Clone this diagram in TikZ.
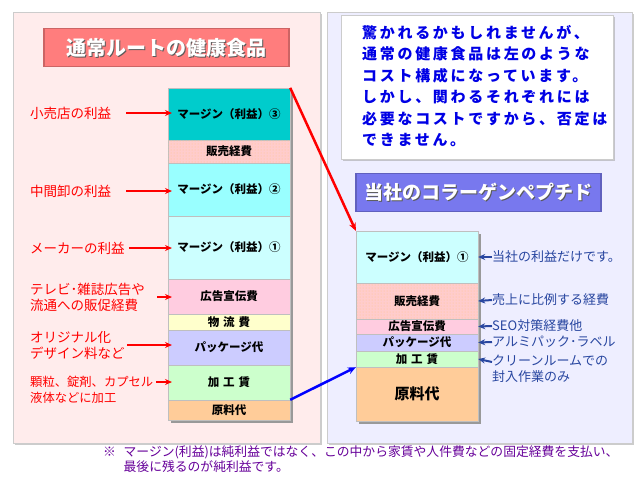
\documentclass[tikz,border=0pt]{standalone}
\usepackage{fontspec}
\newfontfamily\jp{Noto Sans CJK JP}
\newfontfamily\jpwide[LetterSpace=18]{Noto Sans CJK JP}
\usetikzlibrary{arrows.meta,patterns,shadows}
\definecolor{panelpink}{RGB}{255,236,236}
\definecolor{panelblue}{RGB}{238,238,255}
\definecolor{titlered}{RGB}{255,125,125}
\definecolor{titleblue}{RGB}{120,120,238}
\definecolor{cyanA}{RGB}{0,204,204}
\definecolor{cyanB}{RGB}{153,255,255}
\definecolor{cyanC}{RGB}{204,255,255}
\definecolor{salespink}{RGB}{255,204,204}
\definecolor{adpink}{RGB}{255,204,224}
\definecolor{logyellow}{RGB}{255,255,204}
\definecolor{packblue}{RGB}{204,204,255}
\definecolor{workgreen}{RGB}{204,255,204}
\definecolor{rawbrown}{RGB}{255,204,153}
\definecolor{notenavy}{RGB}{40,70,160}
\definecolor{notepurple}{RGB}{102,0,153}
\begin{document}
\begin{tikzpicture}[x=1pt,y=-1pt,
  panel/.style={draw=gray!40,inner sep=0pt,anchor=north west,drop shadow={shadow xshift=2pt,shadow yshift=-2pt,fill=gray!80}},
  title/.style={draw=#1!80!black,line width=1.2pt,fill=#1,inner sep=0pt,minimum width=245pt,minimum height=38pt},
  row/.style={draw=gray!50,fill=#1,minimum width=122pt,inner sep=0pt,font=\jp\bfseries\fontsize{11.5}{12}\selectfont},
  redlbl/.style={text=red,font=\jp\fontsize{13.5}{16}\selectfont,align=left,inner sep=0pt},
  bluelbl/.style={text=notenavy,font=\jp\fontsize{13}{16}\selectfont,align=left,inner sep=0pt,anchor=west},
  redarr/.style={red,line width=2pt,-{Stealth[length=7pt,width=6pt]}},
  bluearr/.style={notenavy,line width=2pt,-{Stealth[length=7pt,width=6pt]}}]
  \useasboundingbox (0,0) rectangle (640,480);
  % background panels
  \node[panel,fill=panelpink,minimum width=307pt,minimum height=431pt] (lpanel) at (13,12) {};
  \node[panel,fill=panelblue,minimum width=305pt,minimum height=431pt] (rpanel) at (327,12) {};
  % titles
  \node[title=titlered] (ltitle) at (166.5,47.5) {};
  \node[text=gray!70!black,font=\jp\bfseries\fontsize{20}{22}\selectfont] at (167.5,48.5) {通常ルートの健康食品};
  \node[text=white,font=\jp\bfseries\fontsize{20}{22}\selectfont] at (166.5,47.5) {通常ルートの健康食品};
  \node[title=titleblue] (rtitle) at (478.5,192.5) {};
  \node[text=gray!70!black,font=\jp\bfseries\fontsize{19}{22}\selectfont] at (479.5,193.5) {当社のコラーゲンペプチド};
  \node[text=white,font=\jp\bfseries\fontsize{19}{22}\selectfont] at (478.5,192.5) {当社のコラーゲンペプチド};
  % message box
  \node[draw=gray!40,fill=white,drop shadow={shadow xshift=2pt,shadow yshift=-2pt,fill=gray!80},
        minimum width=272pt,minimum height=144pt,inner sep=0pt] (msg) at (477,87) {};
  \node[text=blue!90!black,font=\jpwide\bfseries\fontsize{15}{21.5}\selectfont,align=left,anchor=north west,inner sep=0pt] (msgtext) at (362,25)
    {驚かれるかもしれませんが、\\通常の健康食品は左のような\\コスト構成になっています。\\しかし、関わるそれぞれには\\必要なコストですから、否定は\\できません。};
  % left stack
  \fill[gray!80] (171,91) rectangle (293,423);
  \node[row=cyanA,minimum height=52pt] (lm3) at (229,114) {マージン（利益）③};
  \node[row=salespink,minimum height=23pt,postaction={pattern=dots,pattern color=orange!45}] (lsales) at (229,151.5) {};
  \node[font=\jp\bfseries\fontsize{11.5}{12}\selectfont] at (lsales) {販売経費};
  \node[row=cyanB,minimum height=53pt] (lm2) at (229,189.5) {マージン（利益）②};
  \node[row=cyanC,minimum height=63pt] (lm1) at (229,247.5) {マージン（利益）①};
  \node[row=adpink,minimum height=35pt] (lad) at (229,296.5) {広告宣伝費};
  \node[row=logyellow,minimum height=16pt] (llog) at (229,322.5) {物\,\,流\,\,費};
  \node[row=packblue,minimum height=35pt] (lpack) at (229,347.5) {パッケージ代};
  \node[row=workgreen,minimum height=35pt] (lwork) at (229,382.5) {加\,\,工\,\,賃};
  \node[row=rawbrown,minimum height=20pt] (lraw) at (229,410) {原料代};
  % right stack
  \fill[gray!80] (359,234) rectangle (481,424);
  \node[row=cyanC,minimum height=52pt] (rm1) at (417,257) {マージン（利益）①};
  \node[row=salespink,minimum height=36pt,postaction={pattern=dots,pattern color=orange!45}] (rsales) at (417,301) {};
  \node[font=\jp\bfseries\fontsize{11.5}{12}\selectfont] at (rsales) {販売経費};
  \node[row=adpink,minimum height=15pt] (rad) at (417,326.5) {広告宣伝費};
  \node[row=packblue,minimum height=17pt] (rpack) at (417,342.5) {パッケージ代};
  \node[row=workgreen,minimum height=16pt] (rwork) at (417,359) {加\,\,工\,\,賃};
  \node[row=rawbrown,minimum height=54pt,font=\jp\bfseries\fontsize{15}{16}\selectfont] (rraw) at (417,394) {原料代};
  % left labels
  \node[redlbl,anchor=west] (lblretail) at (30,113) {小売店の利益};
  \node[redlbl,anchor=west] (lblwhole) at (30,191) {中間卸の利益};
  \node[redlbl,anchor=west] (lblmaker) at (30,248) {メーカーの利益};
  \node[redlbl,anchor=west] (lblad) at (30,297) {テレビ･雑誌広告や\\流通への販促経費};
  \node[redlbl,anchor=west] (lblpack) at (30,345) {オリジナル化\\デザイン料など};
  \node[redlbl,anchor=west,font=\jp\fontsize{12.3}{16}\selectfont] (lblwork) at (30,390) {顆粒、錠剤、カプセル\\液体などに加工};
  \coordinate (tipa) at (172,113);
  \coordinate (tipb) at (172,191);
  \coordinate (tipc) at (172,248);
  \coordinate (tipd) at (172,297);
  \coordinate (tipe) at (172,345);
  \coordinate (tipf) at (172,382);
  \draw[redarr] (126,113) -- (tipa);
  \draw[redarr] (126,191) -- (tipb);
  \draw[redarr] (lblmaker.east) ++(4,0) -- (tipc);
  \draw[redarr] (157,297) -- (tipd);
  \draw[redarr] (127,345) -- (tipe);
  \draw[redarr] (156,382) -- (tipf);
  % right labels
  \node[bluelbl] (lblown) at (492,257) {当社の利益だけです。};
  \node[bluelbl] (lblprop) at (492,300) {売上に比例する経費};
  \node[bluelbl] (lblseo) at (492,326) {SEO対策経費他};
  \node[bluelbl] (lblalu) at (492,342) {アルミパック･ラベル};
  \node[bluelbl,anchor=north west] (lblclean) at (492,355) {クリーンルームでの\\封入作業のみ};
  \draw[bluearr] (lblown.west) -- (rm1.east);
  \draw[bluearr] (lblprop.west) -- (rsales.east);
  \draw[bluearr] (lblseo.west) -- (rad.east);
  \draw[bluearr] (lblalu.west) -- (rpack.east);
  \draw[bluearr] (492,362) -- (rwork.east);
  % cross arrows
  \draw[red,line width=2.5pt,-{Stealth[length=8pt,width=7pt]}] (lm3.north east) -- (rm1.north west);
  \draw[blue,line width=2.5pt,-{Stealth[length=8pt,width=7pt]}] (lraw.north east) -- (rwork.south west);
  % footnote
  \node[text=notepurple,font=\jp\fontsize{12.8}{14.5}\selectfont,anchor=north west,inner sep=0pt,align=left] (note) at (103,446)
    {※\hspace{0.6em}マージン(利益)は純利益ではなく、この中から家賃や人件費などの固定経費を支払い、\\\hspace{1.6em}最後に残るのが純利益です。};
\end{tikzpicture}
\end{document}
